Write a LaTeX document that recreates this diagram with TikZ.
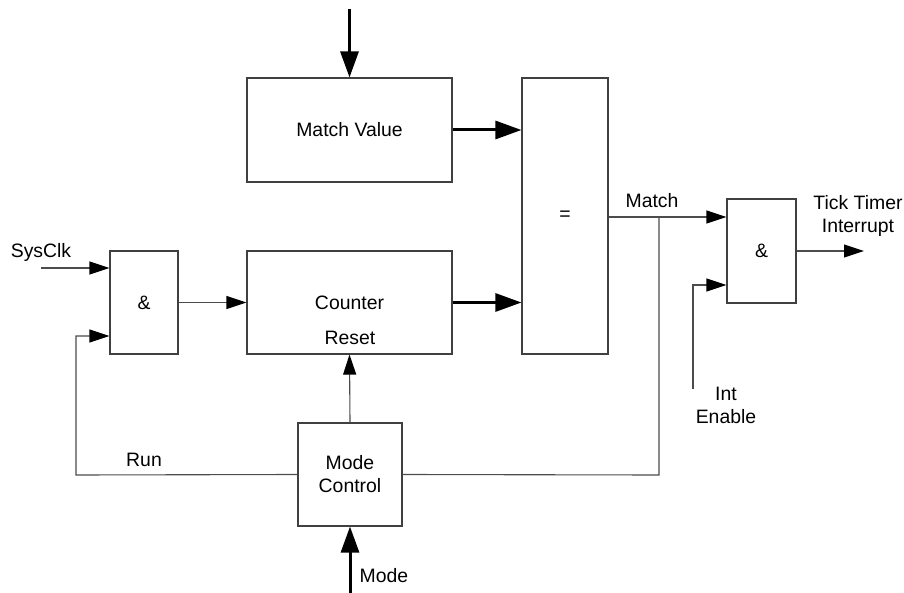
\documentclass[tikz,border=0pt]{standalone}
\usepackage{fontspec}
\setmainfont{Liberation Sans}
\usetikzlibrary{arrows.meta}
\begin{document}
\begin{tikzpicture}[x=1pt,y=-1pt,
  every node/.style={font=\fontsize{19.4}{23}\selectfont, inner sep=0pt},
  blk/.style={draw=black!75, line width=1.1pt, fill=white},
  wire/.style={draw=black!70, line width=1.1pt},
  thin arrow/.style={wire, -{Triangle[length=20pt,width=13pt,color=black]}},
  bus/.style={draw=black, line width=3pt, -{Triangle[length=26pt,width=18pt]}},
  lbl/.style={align=center}
]
\useasboundingbox (0,0) rectangle (904,593);
% blocks
\node[blk, minimum width=205pt, minimum height=104pt] (mv) at (349.5,130) {Match Value};
\node[blk, minimum width=86pt, minimum height=276pt] (eq) at (565,216) {=};
\node[blk, minimum width=205pt, minimum height=103pt] (cnt) at (349.5,302.5) {Counter};
\node[blk, minimum width=68pt, minimum height=103pt] (and1) at (144,302.5) {\&};
\node[blk, minimum width=104pt, minimum height=103pt, align=center] (mc) at (350,474.5) {Mode\\Control};
\node[blk, minimum width=69pt, minimum height=104pt] (and2) at (761.5,251) {\&};
% labels
\node (reset) at (350,338) {Reset};
\node (sysclk) at (41,252) {SysClk};
\node (match) at (652,201) {Match};
\node[lbl] (tick) at (858,216) {Tick Timer\\Interrupt};
\node (run) at (144,460) {Run};
\node (mode) at (384,576) {Mode};
\node[lbl] (inten) at (726,405) {Int\\Enable};
% free ends
\coordinate (topin) at (349.5,9);
\coordinate (modein) at (350,593);
\coordinate (clkin) at (41,268);
\coordinate (runx) at (76,475);
\coordinate (runy) at (76,336);
\coordinate (junc) at (659,217);
\coordinate (juncb) at (659,475);
\coordinate (ienb) at (693,389);
\coordinate (ient) at (693,285);
\coordinate (out) at (864,251);
% connectors
\draw[bus] (topin) -- (mv.north);
\draw[bus] (mv.east) -- (mv.east -| eq.west);
\draw[bus] (cnt.east) -- (cnt.east -| eq.west);
\draw[bus] (modein) -- (mc.south);
\draw[thin arrow] (clkin) -- (clkin -| and1.west);
\draw[thin arrow] (and1.east) -- (cnt.west);
\draw[thin arrow] (mc.north) -- (cnt.south);
\draw[thin arrow] (mc.west) -- (runx) -- (runy) -- (runy -| and1.west);
\draw[thin arrow] (junc -| eq.east) -- (junc -| and2.west);
\draw[wire] (mc.east) -- (juncb) -- (junc);
\draw[thin arrow] (ienb) -- (ient) -- (ient -| and2.west);
\draw[thin arrow] (and2.east) -- (out);
\end{tikzpicture}
\end{document}
